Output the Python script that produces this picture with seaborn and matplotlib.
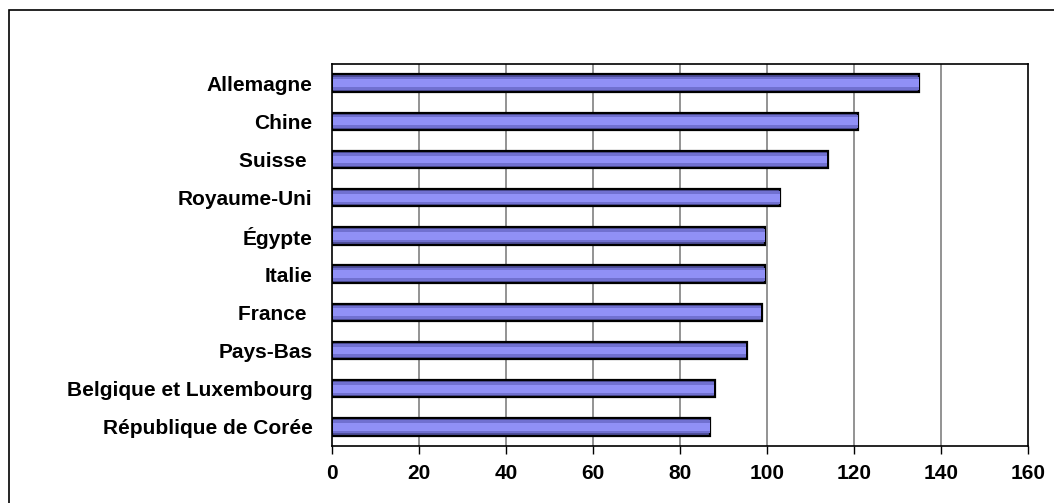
import matplotlib
matplotlib.use("Agg")
import matplotlib.pyplot as plt
import seaborn as sns
import pandas as pd
from matplotlib.patches import Rectangle

countries = ["Allemagne", "Chine", "Suisse ", "Royaume-Uni", "Égypte", "Italie",
             "France ", "Pays-Bas", "Belgique et Luxembourg", "République de Corée"]
values = [135, 121, 114, 103, 99.6, 99.6, 98.8, 95.3, 88, 87]
x_ticks = [0, 20, 40, 60, 80, 100, 120, 140, 160]

sns.set_theme(style="white")
plt.rcParams["font.family"] = ["Liberation Sans", "DejaVu Sans"]

df = pd.DataFrame({"pays": countries, "valeur": values})

fig = plt.figure(figsize=(10.54, 5.03), dpi=100)
ax = fig.add_axes([332 / 1054, 1 - 446 / 503, (1028 - 332) / 1054, (446 - 64) / 503])

# vertical grid lines behind the bars
for t in x_ticks[1:-1]:
    ax.axvline(t, color="#808080", lw=1.2, zorder=0)

# shaded bar: outer dark band, then lighter inner bands
sns.barplot(data=df, y="pays", x="valeur", orient="h", width=0.46,
            color="#50509c", edgecolor="black", linewidth=1.6, saturation=1, ax=ax, zorder=2)
sns.barplot(data=df, y="pays", x="valeur", orient="h", width=0.34,
            color="#7070d0", linewidth=0, saturation=1, ax=ax, zorder=3)
sns.barplot(data=df, y="pays", x="valeur", orient="h", width=0.2,
            color="#9090f6", linewidth=0, saturation=1, ax=ax, zorder=4)

# trim the inner bands so the outline stays visible at the bar end
for p in ax.patches[len(values):]:
    p.set_width(p.get_width() - 0.35)
    p.set_x(p.get_x() + 0.25)

ax.set_xlim(0, 160)
ax.set_ylim(len(values) - 0.5, -0.5)
ax.set_xticks(x_ticks)
ax.set_xticklabels([str(t) for t in x_ticks])
ax.set_xlabel("")
ax.set_ylabel("")

for s in ax.spines.values():
    s.set_color("black")
    s.set_linewidth(1.2)
    s.set_visible(True)

ax.tick_params(axis="x", which="both", bottom=True, length=6, width=1, color="black",
               direction="out", pad=7, labelsize=15)
ax.tick_params(axis="y", left=False, length=0, pad=14, labelsize=15)
for lab in ax.get_xticklabels() + ax.get_yticklabels():
    lab.set_fontweight("bold")
    lab.set_color("black")

# outer chart frame
fig.patches.append(Rectangle((9 / 1054, -0.1), 1.2, 1.1 - 10 / 503, transform=fig.transFigure,
                             fill=False, edgecolor="black", linewidth=1.2))

fig.savefig("out.png", dpi=100)
